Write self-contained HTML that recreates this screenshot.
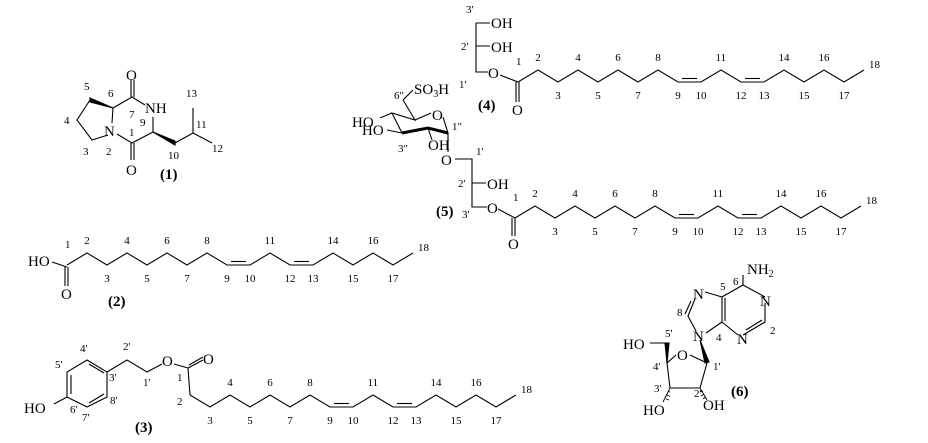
<!DOCTYPE html>
<html><head><meta charset="utf-8"><style>
html,body{margin:0;padding:0;background:#fff;}
svg{display:block;}
text{font-family:"Liberation Serif",serif;fill:#000;}
.l{font-size:11px;}
.a{font-size:15px;}
.b{font-size:15px;font-weight:bold;}
</style></head><body>
<svg id="s" width="928" height="443" viewBox="0 0 928 443" xmlns="http://www.w3.org/2000/svg" stroke="#000" stroke-width="1.1" fill="none">
<!-- Compound 1 -->
<g>
<path d="M113,108 L132,97 L145,105 M153,117 L153,132 L132,143 L117,134 M112,123 L113,108 M108,135 L92,140 L77,120 L90,100"/>
<path d="M131,97 L131,80 M134,97 L134,80 M131,143 L131,160 M134,143 L134,160"/>
<polygon points="113,108 90,98 90,102" fill="#000"/>
<polygon points="153,132 175,141 175,145" fill="#000"/>
<path d="M175,143 L193,133 L212,143 M193,133 L193,108"/>
</g>
<g stroke="none">
<text class="a" x="126" y="80">O</text>
<text class="a" x="126" y="175">O</text>
<text class="a" x="104" y="136">N</text>
<text class="a" x="145" y="113">NH</text>
<text class="l" x="84" y="90">5</text><text class="l" x="108" y="97">6</text>
<text class="l" x="64" y="124">4</text><text class="l" x="83" y="155">3</text>
<text class="l" x="106" y="155">2</text><text class="l" x="129" y="136">1</text>
<text class="l" x="129" y="118">7</text><text class="l" x="140" y="126">9</text>
<text class="l" x="186" y="97">13</text><text class="l" x="196" y="128">11</text>
<text class="l" x="212" y="152">12</text><text class="l" x="168" y="159">10</text>
<text class="b" x="160" y="179">(1)</text>
</g>

<!-- Compound 2 head -->
<g stroke="none"><text class="a" x="28" y="266">HO</text><text class="a" x="61" y="299">O</text>
<text class="b" x="108" y="306">(2)</text></g>
<path d="M52,262 L67,267 M65,267 L65,286 M68,267 L68,286"/>

<!-- Compound 3 -->
<path d="M87,360 L107,372 L107,397 L87,407 L67,397 L67,372 Z M71,375 L71,394 M89,364 L104,373 M89,403 L104,394"/>
<path d="M67,397 L54,404 M107,372 L127,360 L147,372 L162,364 M174,364 L188,368 L190,395 M188,368 L203,360 M189,365 L203,357"/>
<g stroke="none">
<text class="a" x="24" y="413">HO</text><text class="a" x="162" y="366">O</text><text class="a" x="203" y="364">O</text>
<text class="l" x="80" y="352">4'</text><text class="l" x="55" y="368">5'</text><text class="l" x="109" y="381">3'</text>
<text class="l" x="70" y="413">6'</text><text class="l" x="82" y="421">7'</text><text class="l" x="110" y="404">8'</text>
<text class="l" x="123" y="350">2'</text><text class="l" x="143" y="386">1'</text><text class="l" x="177" y="381">1</text>
<text class="l" x="177" y="405">2</text>
<text class="b" x="135" y="432">(3)</text>
</g>

<!-- Compound 4 head -->
<path d="M476,23 L476,72 L488,72 M476,23 L490,23 M476,46 L490,46 M500,75 L518,82 M516,82 L516,102 M519,82 L519,102"/>
<g stroke="none">
<text class="a" x="491" y="28">OH</text><text class="a" x="491" y="52">OH</text><text class="a" x="488" y="78">O</text>
<text class="a" x="512" y="115">O</text>
<text class="l" x="466" y="13">3'</text><text class="l" x="461" y="50">2'</text><text class="l" x="459" y="88">1'</text>
<text class="b" x="478" y="110">(4)</text>
</g>

<!-- Compound 5 -->
<path d="M403,100 L413,90 M403,100 L415,120 L392,113 L402,133 L428,128 L448,133 M415,120 L431,113 M443,117 L448,133 M392,113 L380,118 M402,133 L387,130 M428,128 L432,140 M448,133 L448,152"/>
<path d="M402,133 L428,128 L448,133" stroke-width="3"/>
<path d="M455,159 L472,159 L472,207 L487,207 M472,183 L486,183 M498,209 L515,218 M512,218 L512,236 M515,218 L515,236"/>
<g stroke="none">
<text class="a" x="414" y="94">SO<tspan font-size="10" dy="3">3</tspan><tspan dy="-3">H</tspan></text>
<text class="a" x="432" y="120">O</text>
<text class="a" x="352" y="127">HO</text><text class="a" x="362" y="135">HO</text>
<text class="a" x="428" y="150">OH</text>
<text class="a" x="441" y="165">O</text>
<text class="a" x="487" y="189">OH</text>
<text class="a" x="487" y="213">O</text>
<text class="a" x="508" y="249">O</text>
<text class="l" x="394" y="99">6"</text><text class="l" x="452" y="130">1"</text><text class="l" x="398" y="152">3"</text>
<text class="l" x="476" y="155">1'</text><text class="l" x="458" y="187">2'</text><text class="l" x="462" y="218">3'</text>
<text class="b" x="436" y="216">(5)</text>
</g>

<!-- Compound 6 -->
<path d="M743,285 L765,297 M765,303 L765,322 L743,335 M738,335 L722,322 L722,297 L743,285 M725,321 L725,298 M762,320 L746,330 M743,285 L743,275"/>
<path d="M722,297 L705,292 M722,322 L706,333 M695,299 L688,316 L696,331 M691,301 L685,314"/>
<polygon points="700,340 705,363 709,362" fill="#000"/>
<path d="M707,363 L690,355 M676,355 L667,363 L670,388 L700,388 L707,363 M667,363 L667,343 L650,343"/>
<polygon points="667,363 665,343 669,343" fill="#000"/>
<path d="M670,388 L663,402 M668,391 L670,392 M667,395 L670,396.5 M666,399 L669,400 M700,388 L707,400 M700,392 L703,391 M701,396 L704,394 M703,399 L706,397" stroke-width="0.9"/>
<g stroke="none">
<text class="a" x="747" y="274">NH<tspan font-size="10" dy="3">2</tspan></text>
<text class="a" x="760" y="306">N</text><text class="a" x="737" y="344">N</text>
<text class="a" x="693" y="299">N</text><text class="a" x="693" y="341">N</text>
<text class="a" x="677" y="360">O</text>
<text class="a" x="623" y="349">HO</text>
<text class="a" x="643" y="415">HO</text><text class="a" x="703" y="410">OH</text>
<text class="l" x="720" y="290">5</text><text class="l" x="733" y="285">6</text><text class="l" x="677" y="316">8</text>
<text class="l" x="716" y="341">4</text><text class="l" x="770" y="334">2</text>
<text class="l" x="665" y="337">5'</text><text class="l" x="653" y="370">4'</text><text class="l" x="713" y="370">1'</text>
<text class="l" x="654" y="392">3'</text><text class="l" x="694" y="397">2'</text>
<text class="b" x="731" y="396">(6)</text>
</g>
<g id="chains"></g>
</svg>
<script>
(function(){
var g=document.getElementById('chains'),NS='http://www.w3.org/2000/svg';
var xo=[0,20,40,60,80,100,120,140,160,183,203,223,246,266,286,306,326,346];
var up=[0,1,0,1,0,1,0,1,0,0,1,0,0,1,0,1,0,1];
function chain(x0,dy,uy,start){
 var pts=[],d='';
 for(var i=start;i<18;i++){var x=x0+xo[i],y=up[i]?uy:dy;pts.push([x,y]);}
 d='M'+pts.map(function(p){return p.join(',')}).join(' L');
 var p=document.createElementNS(NS,'path');p.setAttribute('d',d);g.appendChild(p);
 [[8,9],[11,12]].forEach(function(b){
  var a=x0+xo[b[0]]+4,c=x0+xo[b[1]]-4;var q=document.createElementNS(NS,'path');
  q.setAttribute('d','M'+a+','+(dy-3.5)+' L'+c+','+(dy-3.5));g.appendChild(q);});
 for(var i=(start==1?2:1);i<18;i++){
  var t=document.createElementNS(NS,'text');t.setAttribute('class','l');t.setAttribute('stroke','none');
  var x=x0+xo[i],u=up[i];t.textContent=(i+1);
  var w=(i+1)>9?11:5.5;
  if(i==17){t.setAttribute('x',x+5);t.setAttribute('y',uy-2);}
  else{t.setAttribute('x',x-w/2);t.setAttribute('y',u?uy-9:dy+17);}
  g.appendChild(t);
 }
 if(start==0){var t=document.createElementNS(NS,'text');t.setAttribute('class','l');t.setAttribute('stroke','none');
  t.setAttribute('x',x0-2);t.setAttribute('y',uy-9+4);t.textContent='1';g.appendChild(t);}
}
chain(67,265,253,0);
chain(518,82,70,0);
chain(515,218,206,0);
chain(170,407,395,1);
})();
</script>
</body></html>
